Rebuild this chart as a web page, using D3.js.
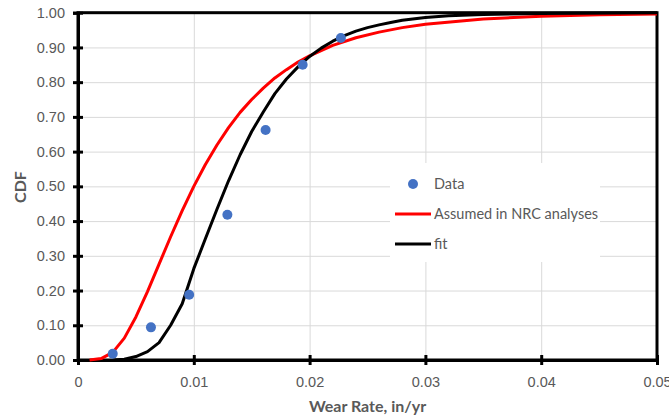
<!DOCTYPE html>
<html>
<head>
<meta charset="utf-8">
<script src="https://cdn.jsdelivr.net/npm/d3@7"></script>
<style>
  html, body { margin: 0; padding: 0; background: #fff; }
  svg { display: block; font-family: Lato, "Open Sans", sans-serif; }
</style>
</head>
<body>
<svg id="chart" width="669" height="419"></svg>
<script>
// ---- data ----
const dataX = [0.0030, 0.0063, 0.0096, 0.0129, 0.0162, 0.0194, 0.0227];
const dataY = [0.018, 0.094, 0.188, 0.418, 0.662, 0.850, 0.927];

const nrcX = [0.001,0.002,0.003,0.004,0.005,0.006,0.007,0.008,0.009,0.010,0.011,0.012,0.013,0.014,0.015,0.016,0.017,0.018,0.019,0.020,0.022,0.024,0.026,0.028,0.030,0.035,0.040,0.045,0.050];
const nrcY = [0.000,0.004,0.022,0.063,0.124,0.197,0.276,0.355,0.430,0.500,0.563,0.619,0.669,0.713,0.750,0.783,0.812,0.836,0.858,0.876,0.906,0.928,0.944,0.957,0.967,0.982,0.990,0.994,0.996];

const fitX = [0.003,0.004,0.005,0.006,0.007,0.008,0.009,0.010,0.011,0.012,0.013,0.014,0.015,0.016,0.017,0.018,0.019,0.020,0.021,0.022,0.023,0.024,0.025,0.026,0.027,0.028,0.030,0.032,0.035,0.040,0.050];
const fitY = [0.000,0.002,0.010,0.024,0.050,0.100,0.162,0.263,0.349,0.434,0.516,0.591,0.658,0.714,0.767,0.809,0.844,0.874,0.898,0.918,0.934,0.947,0.957,0.965,0.972,0.978,0.986,0.991,0.995,0.998,1.000];

const xTicks = [0, 0.01, 0.02, 0.03, 0.04, 0.05];
const xTickLabels = ["0", "0.01", "0.02", "0.03", "0.04", "0.05"];
const yTicks = [0,0.1,0.2,0.3,0.4,0.5,0.6,0.7,0.8,0.9,1.0];

const seriesNames = ["Data", "Assumed in NRC analyses", "fit"];
const xTitle = "Wear Rate, in/yr";
const yTitle = "CDF";

// ---- layout ----
const svg = d3.select("#chart");
const L = 78, R = 657, T = 12.7, B = 360;
const x = d3.scaleLinear().domain([0, 0.05]).range([L, R]);
const y = d3.scaleLinear().domain([0, 1]).range([B, T]);
const textColor = "#595959";

// gridlines
svg.append("g").attr("transform", `translate(0,${B})`)
  .call(d3.axisBottom(x).tickValues(xTicks).tickSize(-(B - T)).tickFormat(""))
  .call(g => g.select(".domain").remove())
  .call(g => g.selectAll("line").attr("stroke", "#d9d9d9").attr("stroke-width", 1));
svg.append("g").attr("transform", `translate(${L},0)`)
  .call(d3.axisLeft(y).tickValues(yTicks).tickSize(-(R - L)).tickFormat(""))
  .call(g => g.select(".domain").remove())
  .call(g => g.selectAll("line").attr("stroke", "#d9d9d9").attr("stroke-width", 1));

// legend background (covers gridlines)
svg.append("rect").attr("x", 390).attr("y", 163).attr("width", 210).attr("height", 99).attr("fill", "#fff");

// plot frame
svg.append("rect").attr("x", L).attr("y", T).attr("width", R - L).attr("height", B - T)
  .attr("fill", "none").attr("stroke", "#000").attr("stroke-width", 3);

// axes
const xAxis = svg.append("g").attr("transform", `translate(0,${B})`)
  .call(d3.axisBottom(x).tickValues(xTicks).tickSize(5).tickPadding(12)
        .tickFormat((d, i) => xTickLabels[i]));
xAxis.select(".domain").attr("stroke", "#000").attr("stroke-width", 3);
xAxis.selectAll(".tick line").attr("y1", -5).attr("y2", 5).attr("stroke", "#000").attr("stroke-width", 3);
xAxis.selectAll(".tick text").attr("fill", textColor).style("font-size", "14.5px");

const yAxis = svg.append("g").attr("transform", `translate(${L},0)`)
  .call(d3.axisLeft(y).tickValues(yTicks).tickSize(5).tickPadding(8).tickFormat(d3.format(".2f")));
yAxis.select(".domain").attr("stroke", "#000").attr("stroke-width", 3);
yAxis.selectAll(".tick line").attr("x1", -5).attr("x2", 5).attr("stroke", "#000").attr("stroke-width", 3);
yAxis.selectAll(".tick text").attr("fill", textColor).style("font-size", "14.5px");

// series
const nrc = nrcX.map((v, i) => [v, nrcY[i]]);
const fit = fitX.map((v, i) => [v, fitY[i]]);
const pts = dataX.map((v, i) => [v, dataY[i]]);
const line = d3.line().x(d => x(d[0])).y(d => y(d[1]));

svg.append("path").datum(nrc).attr("d", line).attr("fill", "none")
  .attr("stroke", "#ff0000").attr("stroke-width", 3).attr("stroke-linejoin", "round");
svg.append("path").datum(fit).attr("d", line).attr("fill", "none")
  .attr("stroke", "#000").attr("stroke-width", 3).attr("stroke-linejoin", "round");
svg.append("g").selectAll("circle").data(pts).join("circle")
  .attr("cx", d => x(d[0])).attr("cy", d => y(d[1])).attr("r", 5)
  .attr("fill", "#4472c4");

// axis titles
svg.append("text").attr("x", (L + R) / 2).attr("y", 412).attr("text-anchor", "middle")
  .attr("fill", textColor).style("font-size", "16px").style("font-weight", "bold").text(xTitle);
svg.append("text").attr("transform", "translate(26,187) rotate(-90)").attr("text-anchor", "middle")
  .attr("fill", textColor).style("font-size", "16px").style("font-weight", "bold").text(yTitle);

// legend
const lg = svg.append("g");
const rows = [184, 214, 244];
lg.append("circle").attr("cx", 413).attr("cy", rows[0]).attr("r", 5).attr("fill", "#4472c4");
lg.append("line").attr("x1", 395).attr("x2", 431).attr("y1", rows[1]).attr("y2", rows[1])
  .attr("stroke", "#ff0000").attr("stroke-width", 3);
lg.append("line").attr("x1", 395).attr("x2", 431).attr("y1", rows[2]).attr("y2", rows[2])
  .attr("stroke", "#000").attr("stroke-width", 3);
seriesNames.forEach((n, i) => {
  lg.append("text").attr("x", 434).attr("y", rows[i]).attr("dy", "0.35em")
    .attr("fill", textColor).style("font-size", "14.5px").text(n);
});
</script>
</body>
</html>
